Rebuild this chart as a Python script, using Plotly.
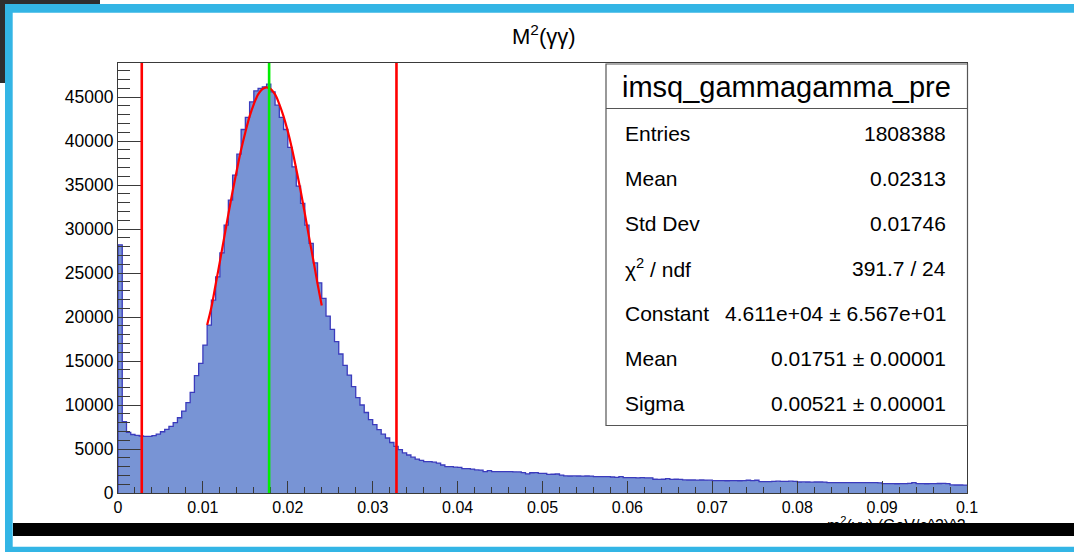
import numpy as np
import plotly.graph_objects as go

# ---------------- data ----------------
X_MIN, X_MAX = 0.0, 0.1
COUNTS = [
    28200, 8100, 6900, 6650, 6550, 6480, 6440, 6440, 6520, 6700,
    6960, 7230, 7570, 7990, 8550, 9310, 10260, 11440, 13330, 14730,
    16810, 19080, 21920, 24570, 27300, 30440, 33280, 36120, 38510, 41310,
    42680, 44450, 45700, 45980, 46160, 46460, 45590, 44080, 42680, 41310,
    39270, 37070, 34880, 32910, 30440, 28360, 26160, 23890, 22110, 20110,
    18600, 17200, 15800, 14500, 13400, 12100, 10850, 10000, 9150, 8330,
    7760, 7210, 6680, 6250, 5740, 5300, 4920, 4560, 4320, 4070,
    3850, 3700, 3560, 3560, 3500, 3400, 3180, 3000, 2990, 2950,
    2920, 2780, 2760, 2720, 2620, 2600, 2430, 2540, 2440, 2430,
    2420, 2430, 2420, 2410, 2400, 2310, 2180, 2300, 2310, 2240,
    2230, 2120, 2130, 2160, 2040, 1950, 1930, 1940, 1930, 1920,
    1930, 1920, 1860, 1870, 1850, 1860, 1820, 1780, 1860, 1750,
    1740, 1740, 1730, 1740, 1730, 1720, 1560, 1550, 1560, 1630,
    1550, 1560, 1540, 1490, 1480, 1480, 1470, 1480, 1470, 1460,
    1400, 1410, 1400, 1390, 1400, 1400, 1390, 1400, 1450, 1400,
    1450, 1300, 1290, 1300, 1330, 1340, 1320, 1330, 1340, 1320,
    1250, 1260, 1250, 1240, 1250, 1250, 1240, 1180, 1180, 1170,
    1180, 1180, 1170, 1180, 1170, 1180, 1170, 1180, 1170, 1160,
    1060, 1070, 1060, 1050, 1060, 1060, 1100, 1180, 1070, 1060,
    1050, 1060, 1060, 1080, 1090, 1070, 920, 910, 910, 900,
]
FIT_X = [0.0105, 0.0110, 0.0115, 0.0120, 0.0125, 0.0130, 0.0135, 0.0140,
         0.0145, 0.0150, 0.0155, 0.0160, 0.0165, 0.0170, 0.0175, 0.0180,
         0.0185, 0.0190, 0.0195, 0.0200, 0.0205, 0.0210, 0.0215, 0.0220,
         0.0225, 0.0230, 0.0235, 0.0240]
FIT_Y = [19100, 21100, 23700, 26300, 29000, 31700, 34300, 36700,
         39000, 41000, 42800, 44200, 45300, 45900, 46100, 45900,
         45300, 44200, 42800, 41100, 39100, 36800, 34400, 31800,
         29100, 26500, 23800, 21300]
RED_LINES = [0.0028, 0.0328]
GREEN_LINES = [0.0178]
Y_MAX = 48870

TITLE = "M<sup>2</sup>(γγ)"
X_TITLE = "m<sup>2</sup>(γγ) (GeV/c^2)^2"
STATS_NAME = "imsq_gammagamma_pre"
STATS_LABELS = ["Entries", "Mean", "Std Dev", "χ<sup>2</sup> / ndf",
                "Constant", "Mean", "Sigma"]
STATS_VALUES = ["1808388", "0.02313", "0.01746", "391.7 / 24",
                "4.611e+04 ± 6.567e+01", "0.01751 ± 0.00001",
                "0.00521 ± 0.00001"]

# ---------------- geometry ----------------
W, H = 1074, 552
L, R, T, B = 118, 967, 63, 493
FONT = "Liberation Sans, Arial, Helvetica, sans-serif"


def px(xp):
    return (xp - L) / (R - L)


def py(yp):
    return (B - yp) / (B - T)


edges = np.linspace(X_MIN, X_MAX, len(COUNTS) + 1)
hx = [X_MIN] + list(edges)
hy = [0] + list(COUNTS) + [COUNTS[-1]]

fig = go.Figure()
fig.add_trace(go.Scatter(
    x=hx, y=hy, mode="lines", line=dict(shape="hv", color="#3b3bbd", width=1.3),
    fill="tozeroy", fillcolor="#7894d5", hoverinfo="skip"))
fig.add_trace(go.Scatter(
    x=FIT_X, y=FIT_Y, mode="lines",
    line=dict(shape="spline", color="#ff0000", width=2.2), hoverinfo="skip"))

shapes = []
for xv in RED_LINES:
    shapes.append(dict(type="line", xref="x", yref="y domain", x0=xv, x1=xv,
                       y0=0, y1=1, line=dict(color="#ff0000", width=2.6), layer="above"))
for xv in GREEN_LINES:
    shapes.append(dict(type="line", xref="x", yref="y domain", x0=xv, x1=xv,
                       y0=0, y1=1, line=dict(color="#00ee00", width=2.6), layer="above"))

# stats box
shapes.append(dict(type="rect", xref="paper", yref="paper",
                   x0=px(606), x1=px(967.5), y0=py(425.5), y1=py(64),
                   fillcolor="white", line=dict(color="#555555", width=1.2), layer="above"))
shapes.append(dict(type="line", xref="paper", yref="paper",
                   x0=px(606), x1=px(967.5), y0=py(108.5), y1=py(108.5),
                   line=dict(color="#555555", width=1.2), layer="above"))

# window decorations
BLUE = "#33b5e5"
DARK = "#2e2e2e"


def prect(x0, y0, x1, y1, color):
    return dict(type="rect", xref="paper", yref="paper", x0=px(x0), x1=px(x1),
                y0=py(y1), y1=py(y0), fillcolor=color, line=dict(width=0), layer="above")


shapes += [
    prect(0, 0, 100, 4, DARK),
    prect(0, 0, 5, 83, DARK),
    prect(5, 4, W, 12.7, BLUE),
    prect(5, 4, 12.7, H, BLUE),
    prect(5, 546.7, W, H, BLUE),
]

annotations = []
annotations.append(dict(text=TITLE, xref="paper", yref="paper", x=px(544), y=py(35),
                        xanchor="center", yanchor="middle", showarrow=False,
                        font=dict(family=FONT, size=22, color="black")))
annotations.append(dict(text=STATS_NAME, xref="paper", yref="paper", x=px(786.5), y=py(87),
                        xanchor="center", yanchor="middle", showarrow=False,
                        font=dict(family=FONT, size=29, color="black")))
row_y0, row_dy = 133.3, 45.0
for i, (lab, val) in enumerate(zip(STATS_LABELS, STATS_VALUES)):
    yc = row_y0 + i * row_dy
    annotations.append(dict(text=lab, xref="paper", yref="paper", x=px(623), y=py(yc),
                            xanchor="left", yanchor="middle", showarrow=False,
                            font=dict(family=FONT, size=21, color="black")))
    annotations.append(dict(text=val, xref="paper", yref="paper", x=px(948), y=py(yc),
                            xanchor="right", yanchor="middle", showarrow=False,
                            font=dict(family=FONT, size=21, color="black")))
# x-axis title (partly hidden by the black bar)
annotations.append(dict(text=X_TITLE, xref="paper", yref="paper", x=px(968), y=py(512),
                        xanchor="right", yanchor="top", showarrow=False,
                        font=dict(family=FONT, size=16, color="black")))
# black bar covering the bottom
annotations.append(dict(text=" ", xref="paper", yref="paper", x=px(13), y=py(523),
                        xanchor="left", yanchor="top", showarrow=False, width=W - 13,
                        height=13, bgcolor="black", borderpad=0, borderwidth=0,
                        font=dict(size=1, color="black")))

axis_common = dict(showgrid=False, zeroline=False, showline=True, mirror=True,
                   linecolor="#3a3a3a", linewidth=1, ticks="inside", tickcolor="#3a3a3a")

fig.update_layout(
    width=W, height=H, autosize=False,
    margin=dict(l=L, r=W - R, t=T, b=H - B, pad=0),
    paper_bgcolor="white", plot_bgcolor="white", showlegend=False,
    xaxis=dict(range=[X_MIN, X_MAX], dtick=0.01, tick0=0, ticklen=12, tickwidth=1.2,
               tickfont=dict(family=FONT, size=16, color="black"),
               minor=dict(ticks="inside", dtick=0.002, ticklen=6, tickcolor="#3a3a3a"),
               **axis_common),
    yaxis=dict(range=[0, Y_MAX], dtick=5000, tick0=0, ticklen=23, tickwidth=1.2,
               tickformat="d", tickfont=dict(family=FONT, size=17.5, color="black"),
               minor=dict(ticks="inside", dtick=1000, ticklen=12, tickcolor="#3a3a3a"),
               **axis_common),
    shapes=shapes, annotations=annotations,
)

fig.write_html("out.html")
